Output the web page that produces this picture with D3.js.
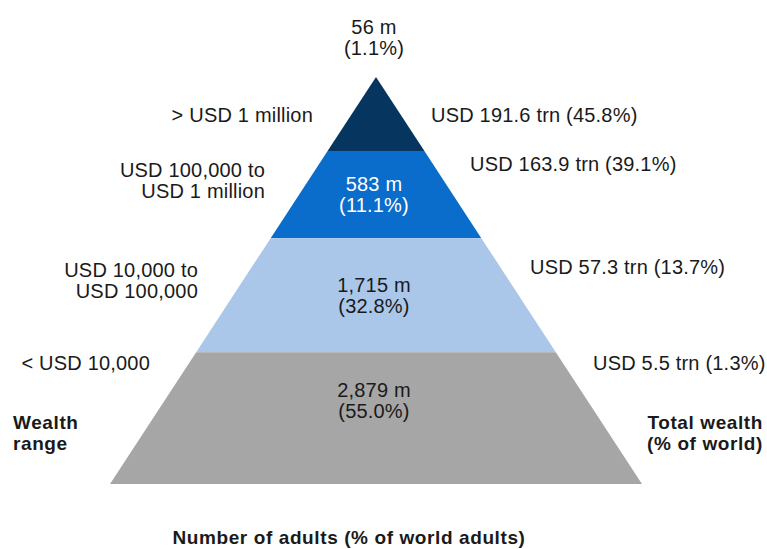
<!DOCTYPE html>
<html>
<head>
<meta charset="utf-8">
<script src="https://cdn.jsdelivr.net/npm/d3@7"></script>
<style>
  body { margin: 0; background: #fff; }
  text { font-family: "Liberation Sans", Arial, sans-serif; fill: #1a1a1a; }
  .bold { font-weight: bold; font-size: 19px; letter-spacing: 0.6px; }
  .lbl { font-size: 20px; letter-spacing: 0.2px; }
</style>
</head>
<body>
<div id="vis"></div>
<script>
// tiers from top of pyramid to bottom
var ranges = [["> USD 1 million"], ["USD 100,000 to", "USD 1 million"], ["USD 10,000 to", "USD 100,000"], ["< USD 10,000"]];
var adults = ["56 m", "583 m", "1,715 m", "2,879 m"];
var adultsPct = ["(1.1%)", "(11.1%)", "(32.8%)", "(55.0%)"];
var wealth = ["USD 191.6 trn (45.8%)", "USD 163.9 trn (39.1%)", "USD 57.3 trn (13.7%)", "USD 5.5 trn (1.3%)"];
var colors = ["#06365f", "#0a6ccb", "#aac7e9", "#a6a6a6"];

var width = 767, height = 549;
// layout: boundaries of tiers as fraction of pyramid height
var bounds = [0, 0.182, 0.396, 0.676, 1];
var leftLabelY = [[122], [177, 198], [277, 298], [370]];
var leftLabelX = [313, 265, 198, 150];
var rightLabelY = [122, 171, 274, 370];
var rightLabelX = [431, 470, 530, 593];
var adultPos = [[34, 55], [191, 212], [292, 313], [397, 418]];

var svg = d3.select("#vis").append("svg")
    .attr("width", width)
    .attr("height", height);

var apexX = 376;
var y = d3.scaleLinear().domain([0, 1]).range([77, 484]);
var half = d3.scaleLinear().domain([0, 1]).range([0, 266]);

// pyramid tiers
svg.selectAll(".tier")
    .data(colors)
    .enter()
    .append("path")
    .attr("class", "tier")
    .attr("fill", function(d) { return d; })
    .attr("d", function(d, i) {
      var t = bounds[i], b = bounds[i + 1];
      return "M" + (apexX - half(t)) + "," + y(t) +
             "L" + (apexX + half(t)) + "," + y(t) +
             "L" + (apexX + half(b)) + "," + y(b) +
             "L" + (apexX - half(b)) + "," + y(b) + "Z";
    });

// number of adults labels
adults.forEach(function(a, i) {
  var c = i == 1 ? "#fff" : "#1a1a1a";
  svg.append("text")
    .attr("class", "lbl")
    .attr("x", apexX - 2).attr("y", adultPos[i][0])
    .attr("text-anchor", "middle")
    .style("fill", c)
    .text(a);
  svg.append("text")
    .attr("class", "lbl")
    .attr("x", apexX - 2).attr("y", adultPos[i][1])
    .attr("text-anchor", "middle")
    .style("fill", c)
    .text(adultsPct[i]);
});

// wealth range labels (left side)
ranges.forEach(function(r, i) {
  r.forEach(function(line, j) {
    svg.append("text")
      .attr("class", "lbl")
      .attr("x", leftLabelX[i]).attr("y", leftLabelY[i][j])
      .attr("text-anchor", "end")
      .text(line);
  });
});

// total wealth labels (right side)
wealth.forEach(function(w, i) {
  svg.append("text")
    .attr("class", "lbl")
    .attr("x", rightLabelX[i]).attr("y", rightLabelY[i])
    .attr("text-anchor", "start")
    .text(w);
});

// titles
svg.append("text").attr("class", "bold").attr("x", 13).attr("y", 429).text("Wealth");
svg.append("text").attr("class", "bold").attr("x", 13).attr("y", 450).text("range");
svg.append("text").attr("class", "bold").attr("x", 763).attr("y", 429).attr("text-anchor", "end").text("Total wealth");
svg.append("text").attr("class", "bold").attr("x", 763).attr("y", 450).attr("text-anchor", "end").text("(% of world)");
svg.append("text").attr("class", "bold").attr("x", 349).attr("y", 544).attr("text-anchor", "middle").text("Number of adults (% of world adults)");
</script>
</body>
</html>
